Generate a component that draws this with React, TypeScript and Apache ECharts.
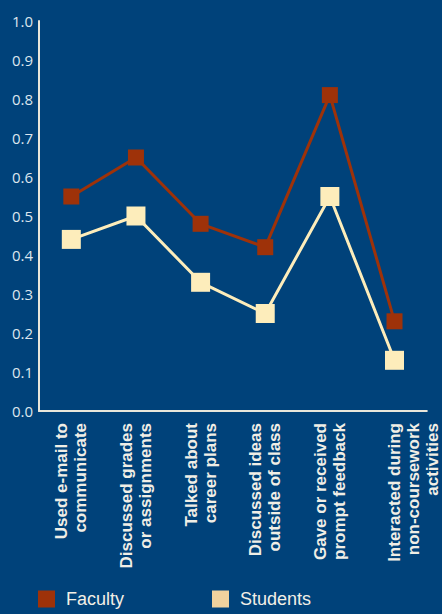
import React, { useEffect, useRef } from "react";
import * as echarts from "echarts";

const categories = [
  "Used e-mail to\ncommunicate",
  "Discussed grades\nor assignments",
  "Talked about\ncareer plans",
  "Discussed ideas\noutside of class",
  "Gave or received\nprompt feedback",
  "Interacted during\nnon-coursework\nactivities",
];
const faculty = [0.55, 0.65, 0.48, 0.42, 0.81, 0.23];
const students = [0.44, 0.5, 0.33, 0.25, 0.55, 0.13];

const BG = "#00427A";
const FAC = "#9E3209";
const STU = "#FDEDBB";
const STU_LEG = "#F0D29E";
const AXIS = "#E9E6DA";

export default function App() {
  const ref = useRef<HTMLDivElement>(null);
  useEffect(() => {
    document.body.style.margin = "0";
    const chart = echarts.init(ref.current!, null, { renderer: "svg" });
    const legText = {
      color: "#F2EFE6",
      fontSize: 18,
      fontFamily: "Liberation Sans",
      padding: [8, 0, 0, 6],
    };
    chart.setOption({
      animation: false,
      backgroundColor: BG,
      grid: { left: 39, right: 15, top: 21, bottom: 203 },
      legend: [
        {
          left: 38,
          top: 590,
          padding: 0,
          icon: "rect",
          itemWidth: 17,
          itemHeight: 17,
          itemGap: 10,
          data: [{ name: "Faculty", itemStyle: { color: FAC } }],
          textStyle: legText,
        },
        {
          left: 212,
          top: 590,
          padding: 0,
          icon: "rect",
          itemWidth: 17,
          itemHeight: 17,
          data: [{ name: "Students", itemStyle: { color: STU_LEG } }],
          textStyle: legText,
        },
      ],
      xAxis: {
        type: "category",
        data: categories,
        boundaryGap: true,
        axisLine: { lineStyle: { color: AXIS, width: 2 } },
        axisTick: { inside: true, length: 7, lineStyle: { color: AXIS, width: 2 } },
        axisLabel: {
          rotate: 90,
          margin: 12,
          interval: 0,
          color: "#F0EEE6",
          fontSize: 17,
          fontWeight: "bold",
          fontFamily: "Liberation Sans",
          lineHeight: 19,
          formatter: (v: string) =>
            v.split("\n").length === 3 ? "\n\n" + v : v,
        },
      },
      yAxis: {
        type: "value",
        min: 0,
        max: 1,
        interval: 0.1,
        splitLine: { show: false },
        axisLine: { show: true, lineStyle: { color: AXIS, width: 2 } },
        axisTick: { show: false },
        axisLabel: {
          color: "#DDE6EE",
          fontSize: 15,
          margin: 6,
          fontFamily: "Open Sans",
          formatter: (v: number) => v.toFixed(1),
        },
      },
      series: [
        {
          name: "Faculty",
          type: "line",
          data: faculty,
          symbol: "rect",
          symbolSize: 16,
          lineStyle: { color: FAC, width: 3 },
          itemStyle: { color: FAC },
          z: 2,
        },
        {
          name: "Students",
          type: "line",
          data: students,
          symbol: "rect",
          symbolSize: 19,
          lineStyle: { color: STU, width: 3 },
          itemStyle: { color: STU },
          z: 3,
        },
      ],
    });
    return () => chart.dispose();
  }, []);
  return <div ref={ref} style={{ width: 442, height: 614 }} />;
}
